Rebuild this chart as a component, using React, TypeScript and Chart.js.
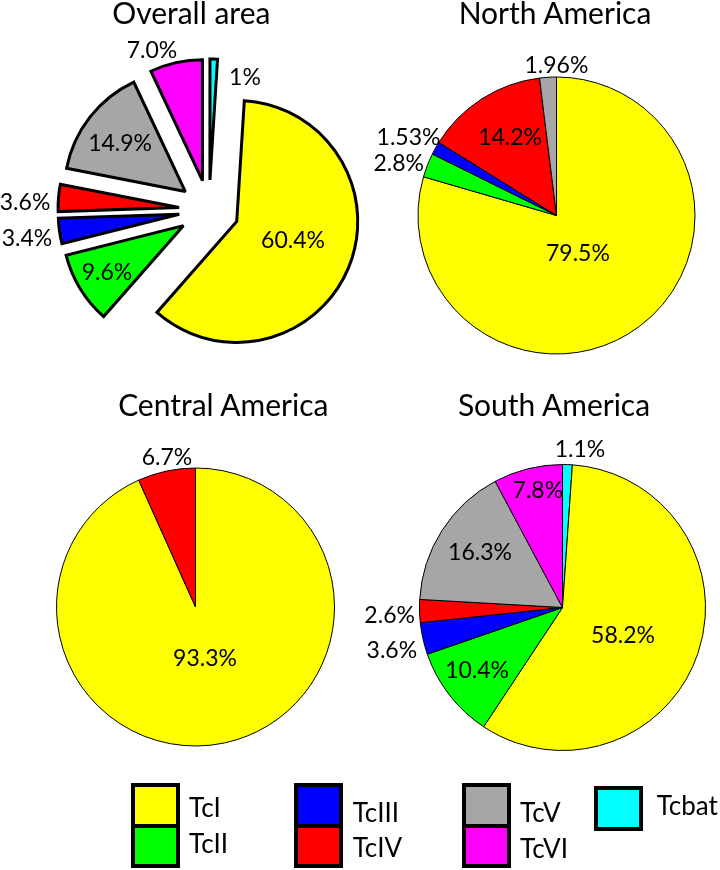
import React, { useEffect, useRef } from "react";
import { Chart, registerables } from "chart.js";

Chart.register(...registerables);

// ---------- data (legend order) ----------
const categories = ["TcI", "TcII", "TcIII", "TcIV", "TcV", "TcVI", "Tcbat"];
const sliceColors = ["#FFFF00", "#00FF00", "#0000FF", "#FF0000", "#A6A6A6", "#FF00FF", "#00FFFF"];

const overallValues = [60.4, 9.6, 3.4, 3.6, 14.9, 7.0, 1];
const overallDecimals = [1, 1, 1, 1, 1, 1, 0];

const northValues = [79.5, 2.8, 1.53, 14.2, 1.96, null, null];
const northDecimals = [1, 1, 2, 1, 2, 1, 1];

const centralValues = [93.3, null, null, 6.7, null, null, null];
const centralDecimals = [1, 1, 1, 1, 1, 1, 1];

const southValues = [58.2, 10.4, 3.6, 2.6, 16.3, 7.8, 1.1];
const southDecimals = [1, 1, 1, 1, 1, 1, 1];

const chartTitles = ["Overall area", "North America", "Central America", "South America"];

// slices run clockwise from 12 o'clock in this order (Tcbat first)
const pieOrder = [6, 0, 1, 2, 3, 4, 5];

// ---------- label placement (legend order): radius factor, angle shift in degrees ----------
const overallLabelRadius = [0.49, 0.739, 1.274, 1.274, 0.673, 1.158, 0.899];
const overallLabelShift = [-4.1, 0.1, -0.9, -2.5, -1.2, -8.5, 17];
const northLabelRadius = [0.31, 1.2, 1.21, 0.66, 1.087, 1, 1];
const northLabelShift = [6.9, -2.9, -1.1, 2.1, 3.5, 0, 0];
const centralLabelRadius = [0.373, 1, 1, 1.1, 1, 1, 1];
const centralLabelShift = [1.5, 0, 0, 1.3, 0, 0, 0];
const southLabelRadius = [0.465, 0.74, 1.23, 1.21, 0.695, 0.84, 1.12];
const southLabelShift = [5.7, 1.6, -1.4, -1.1, 1.3, 2.2, 4.3];

const PAGE_W = 720;
const PAGE_H = 870;
const FONT = "Lato, 'Open Sans', sans-serif";

type PieProps = {
  values: (number | null)[];
  decimals: number[];
  cx: number;
  cy: number;
  r: number;
  explode: number;
  borderWidth: number;
  labelRadius: number[];
  labelShift: number[];
  fontSize: number;
};

function PieCanvas(props: PieProps) {
  const ref = useRef<HTMLCanvasElement>(null);
  useEffect(() => {
    const { values, decimals, cx, cy, r, explode, borderWidth, labelRadius, labelShift, fontSize } = props;
    const S = r + explode + 8;
    const ordValues = pieOrder.map((k) => values[k]);
    const ordColors = pieOrder.map((k) => sliceColors[k]);
    const ordLabels = pieOrder.map((k) => categories[k]);

    const explodePlugin = {
      id: "explodeSlices",
      beforeDatasetsDraw(chart: any) {
        chart.ctx.miterLimit = 2;
        if (!explode) return;
        const ca = chart.chartArea;
        const ox = (ca.left + ca.right) / 2;
        const oy = (ca.top + ca.bottom) / 2;
        chart.getDatasetMeta(0).data.forEach((el: any) => {
          const mid = (el.startAngle + el.endAngle) / 2;
          el.x = ox + Math.cos(mid) * explode;
          el.y = oy + Math.sin(mid) * explode;
        });
      },
    };
    const labelPlugin = {
      id: "sliceLabels",
      afterDatasetsDraw(chart: any) {
        const ctx = chart.ctx;
        ctx.miterLimit = 10;
        ctx.save();
        ctx.font = `${fontSize}px ${FONT}`;
        ctx.fillStyle = "#000";
        ctx.textAlign = "center";
        ctx.textBaseline = "alphabetic";
        chart.getDatasetMeta(0).data.forEach((el: any, j: number) => {
          const k = pieOrder[j];
          const v = values[k];
          if (v == null) return;
          const ang = (el.startAngle + el.endAngle) / 2 + (labelShift[k] * Math.PI) / 180;
          const rr = el.outerRadius * labelRadius[k];
          const x = el.x + Math.cos(ang) * rr;
          const y = el.y + Math.sin(ang) * rr + fontSize * 0.358;
          ctx.fillText(v.toFixed(decimals[k]) + "%", x, y);
        });
        ctx.restore();
      },
    };
    const chart = new Chart(ref.current as HTMLCanvasElement, {
      type: "pie",
      data: {
        labels: ordLabels,
        datasets: [
          {
            data: ordValues as any,
            backgroundColor: ordColors,
            borderColor: "#000",
            borderWidth,
            borderJoinStyle: "miter",
            radius: r,
            clip: false,
          } as any,
        ],
      },
      options: {
        responsive: false,
        animation: false,
        events: [],
        radius: r,
        layout: {
          padding: {
            left: cx - S,
            right: PAGE_W - cx - S,
            top: cy - S,
            bottom: PAGE_H - cy - S,
          },
        },
        plugins: {
          legend: { display: false },
          tooltip: { enabled: false },
          title: { display: false },
        },
      } as any,
      plugins: [explodePlugin, labelPlugin],
    });
    return () => chart.destroy();
  }, []);
  return (
    <canvas
      ref={ref}
      width={PAGE_W}
      height={PAGE_H}
      style={{ position: "absolute", left: 0, top: 0, width: PAGE_W, height: PAGE_H }}
    />
  );
}

function Title({ text, cx, baseline, size }: { text: string; cx: number; baseline: number; size: number }) {
  return (
    <div
      style={{
        position: "absolute",
        left: cx - 200,
        width: 400,
        top: baseline - 0.887 * size,
        fontSize: size,
        lineHeight: `${size}px`,
        textAlign: "center",
        whiteSpace: "nowrap",
        color: "#000",
      }}
    >
      {text}
    </div>
  );
}

function LegendText({ text, x, baseline, size }: { text: string; x: number; baseline: number; size: number }) {
  return (
    <div
      style={{
        position: "absolute",
        left: x,
        top: baseline - 0.887 * size,
        fontSize: size,
        lineHeight: `${size}px`,
        whiteSpace: "nowrap",
        color: "#000",
      }}
    >
      {text}
    </div>
  );
}

function LegendPair({ left, top, c1, c2 }: { left: number; top: number; c1: string; c2: string }) {
  return (
    <div
      style={{
        position: "absolute",
        left,
        top,
        width: 49,
        boxSizing: "border-box",
        border: "4px solid #000",
        background: "#000",
      }}
    >
      <div style={{ height: 36.5, background: c1 }} />
      <div style={{ height: 4, background: "#000" }} />
      <div style={{ height: 36.5, background: c2 }} />
    </div>
  );
}

export default function App() {
  const legendSize = 26;
  const titleSize = 30;
  return (
    <div
      style={{
        position: "fixed",
        left: 0,
        top: 0,
        width: PAGE_W,
        height: PAGE_H,
        background: "#fff",
        overflow: "hidden",
        fontFamily: FONT,
      }}
    >
      <PieCanvas
        values={overallValues}
        decimals={overallDecimals}
        cx={209}
        cy={210}
        r={121}
        explode={30}
        borderWidth={3}
        labelRadius={overallLabelRadius}
        labelShift={overallLabelShift}
        fontSize={23}
      />
      <PieCanvas
        values={northValues}
        decimals={northDecimals}
        cx={556.5}
        cy={215.5}
        r={138.5}
        explode={0}
        borderWidth={1}
        labelRadius={northLabelRadius}
        labelShift={northLabelShift}
        fontSize={23}
      />
      <PieCanvas
        values={centralValues}
        decimals={centralDecimals}
        cx={195.5}
        cy={607}
        r={139}
        explode={0}
        borderWidth={1}
        labelRadius={centralLabelRadius}
        labelShift={centralLabelShift}
        fontSize={23}
      />
      <PieCanvas
        values={southValues}
        decimals={southDecimals}
        cx={562.5}
        cy={607.5}
        r={143}
        explode={0}
        borderWidth={1}
        labelRadius={southLabelRadius}
        labelShift={southLabelShift}
        fontSize={23}
      />

      <Title text={chartTitles[0]} cx={191.3} baseline={24} size={titleSize} />
      <Title text={chartTitles[1]} cx={555} baseline={23.5} size={titleSize} />
      <Title text={chartTitles[2]} cx={223.3} baseline={416} size={titleSize} />
      <Title text={chartTitles[3]} cx={554} baseline={416} size={titleSize} />

      <LegendPair left={130.5} top={783.3} c1={sliceColors[0]} c2={sliceColors[1]} />
      <LegendText text={categories[0]} x={189} baseline={816.7} size={legendSize} />
      <LegendText text={categories[1]} x={189} baseline={852.7} size={legendSize} />

      <LegendPair left={294} top={783.3} c1={sliceColors[2]} c2={sliceColors[3]} />
      <LegendText text={categories[2]} x={352.7} baseline={821.7} size={legendSize} />
      <LegendText text={categories[3]} x={352.7} baseline={857.3} size={legendSize} />

      <LegendPair left={461.7} top={783.3} c1={sliceColors[4]} c2={sliceColors[5]} />
      <LegendText text={categories[4]} x={520} baseline={821.7} size={legendSize} />
      <LegendText text={categories[5]} x={520} baseline={858} size={legendSize} />

      <div
        style={{
          position: "absolute",
          left: 594,
          top: 786,
          width: 49,
          height: 45,
          boxSizing: "border-box",
          border: "4px solid #000",
          background: sliceColors[6],
        }}
      />
      <LegendText text={categories[6]} x={656.7} baseline={815} size={legendSize} />
    </div>
  );
}
